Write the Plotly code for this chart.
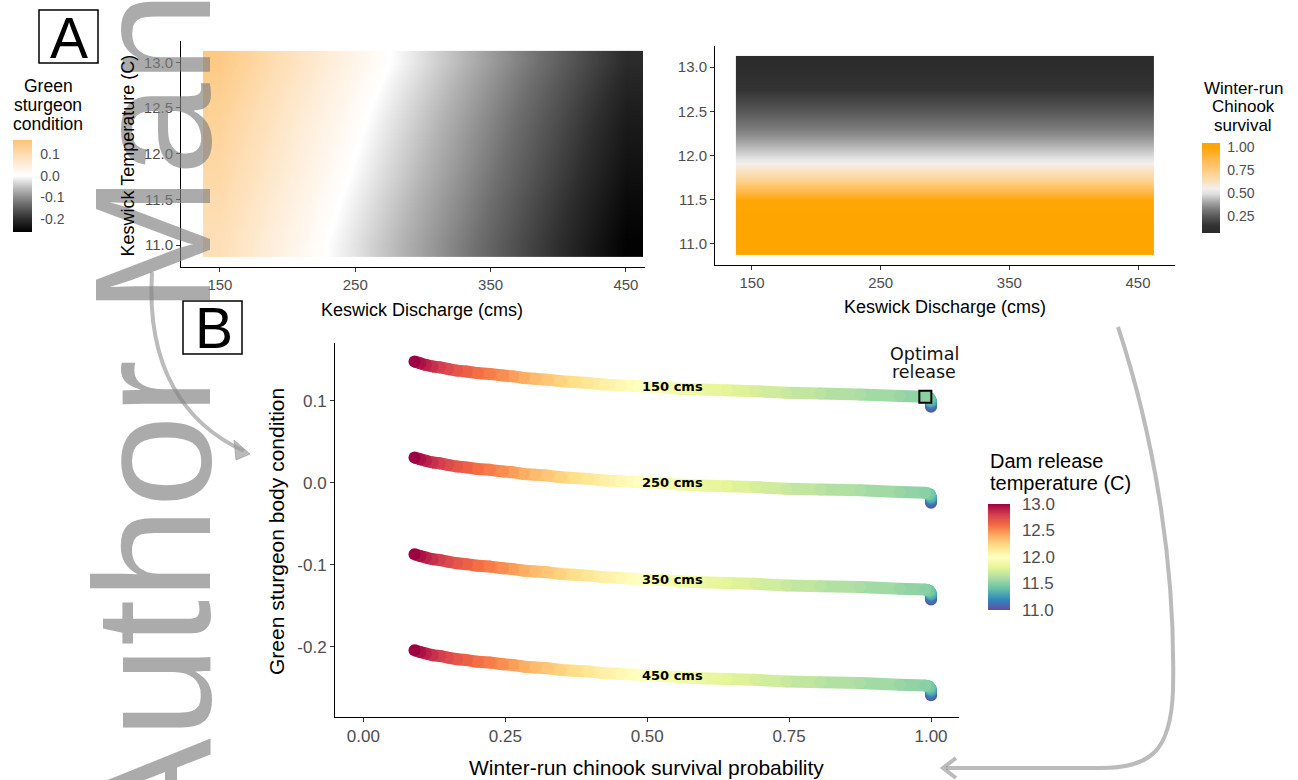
import plotly.graph_objects as go

W, H = 1298, 780
FONT = "Liberation Sans, Arial, sans-serif"
LFONT = "DejaVu Sans, Verdana, sans-serif"

# ---------------- data ----------------
temps = [11.00, 11.05, 11.10, 11.15, 11.20, 11.25, 11.30, 11.35, 11.40, 11.45,
         11.50, 11.55, 11.60, 11.65, 11.70, 11.75, 11.80, 11.85, 11.90, 11.95,
         12.00, 12.05, 12.10, 12.15, 12.20, 12.25, 12.30, 12.35, 12.40, 12.45,
         12.50, 12.55, 12.60, 12.65, 12.70, 12.75, 12.80, 12.85, 12.90, 12.95, 13.00]

survival = [1.000, 1.000, 1.000, 1.000, 1.000, 1.000, 1.000, 0.999, 0.998, 0.996,
            0.990, 0.945, 0.875, 0.805, 0.745, 0.690, 0.640, 0.595, 0.555, 0.518,
            0.485, 0.454, 0.425, 0.397, 0.372, 0.348, 0.325, 0.303, 0.283, 0.264,
            0.246, 0.223, 0.201, 0.182, 0.165, 0.149, 0.135, 0.122, 0.110, 0.100, 0.090]

cond_150 = [0.093, 0.094, 0.095, 0.097, 0.098, 0.099, 0.100, 0.101, 0.103, 0.104,
            0.105, 0.106, 0.108, 0.109, 0.110, 0.112, 0.113, 0.114, 0.115, 0.117,
            0.118, 0.119, 0.120, 0.122, 0.123, 0.124, 0.126, 0.127, 0.128, 0.130,
            0.131, 0.133, 0.134, 0.136, 0.137, 0.139, 0.141, 0.142, 0.144, 0.146, 0.148]
cond_250 = [-0.024, -0.023, -0.022, -0.020, -0.019, -0.018, -0.017, -0.016, -0.014, -0.013,
            -0.012, -0.011, -0.009, -0.008, -0.007, -0.005, -0.004, -0.003, -0.002, 0.000,
            0.001, 0.002, 0.003, 0.005, 0.006, 0.007, 0.009, 0.010, 0.011, 0.013,
            0.014, 0.016, 0.017, 0.019, 0.020, 0.022, 0.024, 0.025, 0.027, 0.029, 0.031]
cond_350 = [-0.142, -0.141, -0.140, -0.138, -0.137, -0.136, -0.135, -0.134, -0.132, -0.131,
            -0.130, -0.129, -0.127, -0.126, -0.125, -0.123, -0.122, -0.121, -0.120, -0.118,
            -0.117, -0.116, -0.115, -0.113, -0.112, -0.111, -0.109, -0.108, -0.107, -0.105,
            -0.104, -0.102, -0.101, -0.099, -0.098, -0.096, -0.094, -0.093, -0.091, -0.089, -0.087]
cond_450 = [-0.259, -0.258, -0.257, -0.255, -0.254, -0.253, -0.252, -0.251, -0.249, -0.248,
            -0.247, -0.246, -0.244, -0.243, -0.242, -0.240, -0.239, -0.238, -0.237, -0.235,
            -0.234, -0.233, -0.232, -0.230, -0.229, -0.228, -0.226, -0.225, -0.224, -0.222,
            -0.221, -0.219, -0.218, -0.216, -0.215, -0.213, -0.211, -0.210, -0.208, -0.206, -0.204]
curve_conditions = [cond_150, cond_250, cond_350, cond_450]
curve_labels = ["150 cms", "250 cms", "350 cms", "450 cms"]

optimal_temp = 11.50
label_survival = 0.545

# heatmap grids (panel A)
hm_discharge = [150, 175, 200, 225, 250, 275, 300, 325, 350, 375, 400, 425, 450]
hm_temp = [11.0, 11.25, 11.5, 11.75, 12.0, 12.25, 12.5, 12.75, 13.0]
hm_condition = [
    [0.093, 0.064, 0.034, 0.005, -0.024, -0.054, -0.083, -0.112, -0.142, -0.171, -0.200, -0.230, -0.259],
    [0.099, 0.070, 0.040, 0.011, -0.018, -0.048, -0.077, -0.106, -0.136, -0.165, -0.194, -0.224, -0.253],
    [0.105, 0.076, 0.046, 0.017, -0.012, -0.042, -0.071, -0.100, -0.130, -0.159, -0.188, -0.218, -0.247],
    [0.112, 0.083, 0.053, 0.024, -0.005, -0.035, -0.064, -0.093, -0.123, -0.152, -0.181, -0.211, -0.240],
    [0.118, 0.089, 0.059, 0.030, 0.001, -0.029, -0.058, -0.087, -0.117, -0.146, -0.175, -0.205, -0.234],
    [0.124, 0.095, 0.065, 0.036, 0.007, -0.023, -0.052, -0.081, -0.111, -0.140, -0.169, -0.199, -0.228],
    [0.131, 0.102, 0.072, 0.043, 0.014, -0.016, -0.045, -0.074, -0.104, -0.133, -0.162, -0.192, -0.221],
    [0.139, 0.110, 0.080, 0.051, 0.022, -0.008, -0.037, -0.066, -0.096, -0.125, -0.154, -0.184, -0.213],
    [0.148, 0.119, 0.089, 0.060, 0.031, 0.001, -0.028, -0.057, -0.087, -0.116, -0.145, -0.175, -0.204],
]
hm_survival = [1.000, 1.000, 0.990, 0.690, 0.485, 0.348, 0.246, 0.149, 0.090]

heat_ticks = [150, 250, 350, 450]
temp_ticks = [11.0, 11.5, 12.0, 12.5, 13.0]
cond_cb_ticks = [-0.2, -0.1, 0.0, 0.1]
surv_cb_ticks = [0.25, 0.50, 0.75, 1.00]
b_xticks = [0.0, 0.25, 0.50, 0.75, 1.00]
b_yticks = [-0.2, -0.1, 0.0, 0.1]

# ---------------- helpers ----------------
def fx(px):
    return px / W


def fy(py):
    return 1 - py / H


def hex_rgb(h):
    h = h.lstrip('#')
    return tuple(int(h[i:i + 2], 16) for i in (0, 2, 4))


def color_at(stops, p):
    p = min(max(p, 0.0), 1.0)
    for (p0, c0), (p1, c1) in zip(stops[:-1], stops[1:]):
        if p <= p1:
            f = 0 if p1 == p0 else (p - p0) / (p1 - p0)
            a, b = hex_rgb(c0), hex_rgb(c1)
            return 'rgb(%d,%d,%d)' % tuple(round(a[k] + (b[k] - a[k]) * f) for k in range(3))
    return stops[-1][1]


def value_scale(pairs, vmin, vmax):
    return [[(v - vmin) / (vmax - vmin), c] for v, c in pairs]


def pt(x, y):
    return f"{fx(x):.5f},{fy(y):.5f}"


spectral = ['#5E4FA2', '#3288BD', '#66C2A5', '#ABDDA4', '#E6F598', '#FFFFBF',
            '#FEE08B', '#FDAE61', '#F46D43', '#D53E4F', '#9E0142']
spec_stops = [(i / 10, c) for i, c in enumerate(spectral)]
TMIN, TMAX = 11.0, 13.0

COND_MIN, COND_MAX = -0.261, 0.166
cond_scale = value_scale([(-0.261, '#000000'), (-0.2, '#2E2E2E'), (-0.13, '#6E6E6E'),
                          (-0.065, '#B3B3B3'), (0.0, '#FFFFFF'), (0.05, '#FEEEDA'),
                          (0.1, '#FEDDB2'), (0.166, '#FDC374')], COND_MIN, COND_MAX)
SURV_MIN, SURV_MAX = 0.068, 1.045
surv_scale = value_scale([(0.068, '#2A2A2A'), (0.15, '#333333'), (0.25, '#595959'),
                          (0.33, '#7D7D7D'), (0.40, '#A5A5A5'), (0.49, '#DEDEDE'),
                          (0.55, '#F2F0EC'), (0.62, '#F8E2C2'), (0.75, '#FFCC80'),
                          (0.88, '#FFB746'), (1.0, '#FFA500'), (1.045, '#FFA500')],
                         SURV_MIN, SURV_MAX)

TICKC = '#4D4D4D'

# colour-bar geometry (pixels): left, top, thickness, length
CB_COND = (13, 140, 19, 92)
CB_SURV = (1202, 143, 18, 90)
CB_TEMP = (988, 504, 22, 106)

fig = go.Figure()

# ---------------- panel A: heatmaps ----------------
fig.add_trace(go.Heatmap(
    x=hm_discharge, y=hm_temp, z=hm_condition, zsmooth='best',
    colorscale=cond_scale, zmin=COND_MIN, zmax=COND_MAX, hoverinfo='skip',
    xaxis='x', yaxis='y',
    colorbar=dict(x=fx(CB_COND[0]), xanchor='left', y=fy(CB_COND[1] + CB_COND[3] / 2), yanchor='middle',
                  lenmode='pixels', len=CB_COND[3], thickness=CB_COND[2], xpad=0, ypad=0,
                  outlinewidth=0, ticks='outside', ticklen=6, tickcolor='rgba(0,0,0,0)',
                  tickvals=cond_cb_ticks, ticktext=['%.1f' % v for v in cond_cb_ticks],
                  tickfont=dict(family=FONT, size=14, color=TICKC))))

surv_z = [[s] * len(hm_discharge) for s in hm_survival]
fig.add_trace(go.Heatmap(
    x=hm_discharge, y=hm_temp, z=surv_z, zsmooth='best',
    colorscale=surv_scale, zmin=SURV_MIN, zmax=SURV_MAX, hoverinfo='skip',
    xaxis='x2', yaxis='y2',
    colorbar=dict(x=fx(CB_SURV[0]), xanchor='left', y=fy(CB_SURV[1] + CB_SURV[3] / 2), yanchor='middle',
                  lenmode='pixels', len=CB_SURV[3], thickness=CB_SURV[2], xpad=0, ypad=0,
                  outlinewidth=0, ticks='outside', ticklen=5, tickcolor='rgba(0,0,0,0)',
                  tickvals=surv_cb_ticks, ticktext=['%.2f' % v for v in surv_cb_ticks],
                  tickfont=dict(family=FONT, size=14, color=TICKC))))

# ---------------- panel B: trade-off curves ----------------
for ci, cond in enumerate(curve_conditions):
    for i in range(len(temps) - 1):
        tm = (temps[i] + temps[i + 1]) / 2
        fig.add_trace(go.Scatter(
            x=[survival[i], survival[i + 1]], y=[cond[i], cond[i + 1]],
            mode='lines', line=dict(color=color_at(spec_stops, (tm - TMIN) / (TMAX - TMIN)), width=12),
            hoverinfo='skip', xaxis='x3', yaxis='y3', showlegend=False))
    marker = dict(color=temps, colorscale=[[p, c] for p, c in spec_stops], cmin=TMIN, cmax=TMAX,
                  size=12, line=dict(width=0), showscale=(ci == 0))
    if ci == 0:
        marker['colorbar'] = dict(x=fx(CB_TEMP[0]), xanchor='left', y=fy(CB_TEMP[1] + CB_TEMP[3] / 2),
                                  yanchor='middle', lenmode='pixels', len=CB_TEMP[3],
                                  thickness=CB_TEMP[2], xpad=0, ypad=0,
                                  outlinewidth=0, ticks='outside', ticklen=9,
                                  tickcolor='rgba(0,0,0,0)', tickvals=temp_ticks,
                                  ticktext=['%.1f' % v for v in temp_ticks],
                                  tickfont=dict(family=FONT, size=17, color=TICKC))
    fig.add_trace(go.Scatter(x=survival, y=cond, mode='markers', marker=marker,
                             hoverinfo='skip', xaxis='x3', yaxis='y3', showlegend=False))

i_opt = temps.index(optimal_temp)
fig.add_trace(go.Scatter(x=[survival[i_opt]], y=[cond_150[i_opt]], mode='markers',
                         marker=dict(symbol='square-open', size=12, color='black',
                                     line=dict(width=2, color='black')),
                         hoverinfo='skip', xaxis='x3', yaxis='y3', showlegend=False))

# ---------------- axes ----------------
def axis(**kw):
    base = dict(showline=True, linecolor='black', linewidth=1, ticks='outside', ticklen=4,
                tickwidth=1, tickcolor='#333333', showgrid=False, zeroline=False,
                fixedrange=True, tickfont=dict(family=FONT, size=15, color=TICKC))
    base.update(kw)
    return base


fig.update_layout(
    width=W, height=H, margin=dict(l=0, r=0, t=0, b=0),
    paper_bgcolor='white', plot_bgcolor='white', showlegend=False,
    xaxis=axis(domain=[fx(181), fx(645)], range=[121.25, 464.1], anchor='y',
               tickvals=heat_ticks, ticktext=[str(v) for v in heat_ticks]),
    yaxis=axis(domain=[fy(266.7), fy(40.6)], range=[10.7625, 13.2375], anchor='x',
               tickvals=temp_ticks, ticktext=['%.1f' % v for v in temp_ticks]),
    xaxis2=axis(domain=[fx(715), fx(1175)], range=[121.25, 478.75], anchor='y2',
                tickvals=heat_ticks, ticktext=[str(v) for v in heat_ticks]),
    yaxis2=axis(domain=[fy(265), fy(46)], range=[10.7625, 13.2375], anchor='x2',
                tickvals=temp_ticks, ticktext=['%.1f' % v for v in temp_ticks]),
    xaxis3=axis(domain=[fx(335), fx(959.4)], range=[-0.05, 1.05], anchor='y3',
                tickvals=b_xticks, ticktext=['%.2f' % v for v in b_xticks],
                tickfont=dict(family=FONT, size=17, color=TICKC)),
    yaxis3=axis(domain=[fy(717), fy(343)], range=[-0.2854, 0.1707], anchor='x3',
                tickvals=b_yticks, ticktext=['%.1f' % v for v in b_yticks],
                tickfont=dict(family=FONT, size=17, color=TICKC)),
)

# ---------------- shapes: panel boxes, arrows, colour-bar ticks ----------------
ARROW = 'rgba(150,150,150,0.65)'
shapes = [
    dict(type='rect', xref='paper', yref='paper', x0=fx(39), x1=fx(98), y0=fy(63), y1=fy(10),
         line=dict(color='black', width=1.5), layer='above'),
    dict(type='rect', xref='paper', yref='paper', x0=fx(183), x1=fx(242), y0=fy(354), y1=fy(301),
         line=dict(color='black', width=1.5), layer='above'),
    dict(type='path', xref='paper', yref='paper', layer='above',
         path=f"M {pt(152, 272)} C {pt(146, 368)} {pt(185, 424)} {pt(244, 451)}",
         line=dict(color=ARROW, width=4)),
    dict(type='path', xref='paper', yref='paper', layer='above',
         path=f"M {pt(250, 454)} L {pt(234, 440)} L {pt(236, 460)} Z",
         line=dict(color=ARROW, width=1), fillcolor=ARROW),
    dict(type='path', xref='paper', yref='paper', layer='above',
         path=(f"M {pt(1118, 327)} C {pt(1152, 430)} {pt(1176, 560)} {pt(1173, 690)} "
               f"C {pt(1171, 752)} {pt(1150, 768)} {pt(1100, 768)} L {pt(946, 768)}"),
         line=dict(color=ARROW, width=4)),
    dict(type='path', xref='paper', yref='paper', layer='above',
         path=f"M {pt(956, 758)} L {pt(943, 768)} L {pt(956, 778)}",
         line=dict(color=ARROW, width=4)),
]


def cb_ticks(geom, vmin, vmax, vals):
    left, top, thick, length = geom
    tl = thick / 5
    out = []
    for v in vals:
        yy = top + length * (vmax - v) / (vmax - vmin)
        for xa, xb in ((left, left + tl), (left + thick - tl, left + thick)):
            out.append(dict(type='line', xref='paper', yref='paper', layer='above',
                            x0=fx(xa), x1=fx(xb), y0=fy(yy), y1=fy(yy),
                            line=dict(color='white', width=1)))
    return out


shapes += cb_ticks(CB_COND, COND_MIN, COND_MAX, cond_cb_ticks)
shapes += cb_ticks(CB_SURV, SURV_MIN, SURV_MAX, surv_cb_ticks)
shapes += cb_ticks(CB_TEMP, TMIN, TMAX, temp_ticks)
fig.update_layout(shapes=shapes)

# ---------------- text ----------------
ann = []


def ptext(text, x, y, size, color='black', family=FONT, xanchor='center', angle=0, weight='normal'):
    ann.append(dict(text=text, x=fx(x), y=fy(y), xref='paper', yref='paper', showarrow=False,
                    xanchor=xanchor, yanchor='middle', textangle=angle,
                    font=dict(family=family, size=size, color=color, weight=weight)))


# watermark
ann.append(dict(text='Author Man', x=fx(152), y=fy(420), xref='paper', yref='paper',
                showarrow=False, xanchor='center', yanchor='middle', textangle=-90,
                font=dict(family=FONT, size=166, color='rgba(128,128,128,0.66)')))

ptext('A', 68.5, 37.5, 57)
ptext('B', 213.5, 327.5, 57)
for t, yy in zip(['Green', 'sturgeon', 'condition'], [85.5, 105, 124.5]):
    ptext(t, 48, yy, 17.5)
for t, yy in zip(['Winter-run', 'Chinook', 'survival'], [88, 107, 125.5]):
    ptext(t, 1243, yy, 17)
ptext('Dam release', 988, 461, 20, xanchor='left')
ptext('temperature (C)', 988, 483, 20, xanchor='left')
ptext('Keswick Temperature (C)', 127.5, 155, 18, angle=-90)
ptext('Keswick Discharge (cms)', 422, 310, 18)
ptext('Keswick Discharge (cms)', 945, 307, 18)
ptext('Winter-run chinook survival probability', 646.6, 767, 21)
ptext('Green sturgeon body condition', 276, 532, 21, angle=-90)
ptext('Optimal', 924, 354, 17.5, color='#111111', family=LFONT)
ptext('release', 924, 372, 17.5, color='#111111', family=LFONT)

j_lab = min(range(len(survival)), key=lambda k: abs(survival[k] - label_survival))
for lab, cond in zip(curve_labels, curve_conditions):
    ann.append(dict(text=lab, x=label_survival, y=cond[j_lab], xref='x3', yref='y3',
                    showarrow=False, xanchor='center', yanchor='middle', yshift=2,
                    font=dict(family=LFONT, size=13, color='black', weight='bold')))

fig.update_layout(annotations=ann)

fig.write_html("out.html", config={'displayModeBar': False},
               post_script="document.body.style.margin='0';")
